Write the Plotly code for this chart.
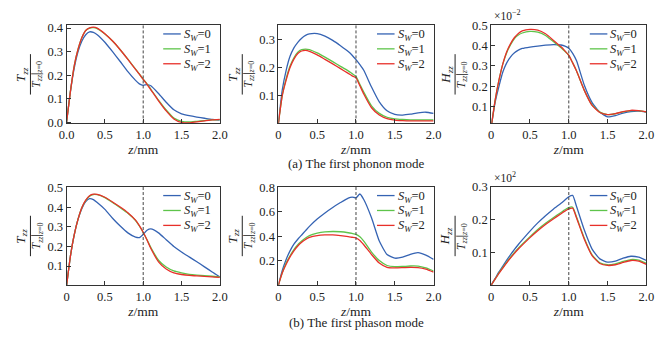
import plotly.graph_objects as go

# ---------------- data ----------------
z = [0, 0.05, 0.1, 0.15, 0.2, 0.25, 0.3, 0.35, 0.4, 0.5, 0.6, 0.7, 0.8, 0.9, 0.95,
     1.0, 1.05, 1.1, 1.2, 1.3, 1.4, 1.5, 1.6, 1.7, 1.8, 1.9, 2.0]

sw_labels = ["<i>S</i><sub><i>W</i></sub>=0", "<i>S</i><sub><i>W</i></sub>=1", "<i>S</i><sub><i>W</i></sub>=2"]

# (a) first phonon mode
a1_sw0 = [0, .13, .23, .30, .345, .372, .384, .382, .372, .340, .300, .258, .215, .178, .163,
          .157, .160, .155, .122, .085, .053, .036, .028, .022, .017, .012, .009]
a1_sw1 = [0, .13, .24, .31, .36, .39, .400, .402, .398, .375, .345, .308, .268, .226, .205,
          .183, .163, .140, .094, .052, .018, .004, .001, .004, .007, .010, .011]
a1_sw2 = [0, .13, .24, .31, .36, .39, .401, .404, .400, .376, .345, .308, .267, .225, .204,
          .182, .161, .138, .091, .048, .014, -.001, -.003, .002, .006, .010, .012]

a2_sw0 = [0, .12, .19, .24, .27, .29, .305, .315, .320, .321, .312, .297, .278, .257, .244,
          .228, .210, .190, .130, .077, .045, .032, .030, .033, .038, .040, .036]
a2_sw1 = [0, .10, .16, .205, .235, .255, .264, .266, .264, .252, .237, .221, .204, .188, .178,
          .168, .140, .112, .063, .036, .022, .016, .014, .013, .013, .013, .013]
a2_sw2 = [0, .10, .155, .20, .23, .25, .259, .261, .258, .245, .229, .213, .196, .179, .170,
          .163, .135, .105, .056, .030, .017, .012, .010, .009, .009, .009, .009]

a3_sw0 = [0, .12, .20, .27, .315, .345, .365, .378, .386, .393, .398, .402, .405, .403, .398,
          .387, .362, .325, .205, .120, .072, .050, .056, .068, .076, .078, .073]
a3_sw1 = [0, .13, .23, .31, .365, .405, .435, .452, .462, .470, .466, .450, .420, .390, .372,
          .352, .315, .275, .180, .108, .073, .061, .065, .074, .080, .080, .073]
a3_sw2 = [0, .13, .23, .31, .37, .41, .440, .460, .472, .480, .476, .458, .427, .394, .374,
          .352, .315, .275, .180, .106, .071, .061, .066, .075, .082, .080, .074]

# (b) first phason mode
b1_sw0 = [0, .15, .26, .34, .395, .43, .445, .440, .425, .390, .345, .305, .270, .248, .246,
          .262, .283, .290, .270, .235, .200, .172, .147, .122, .096, .070, .045]
b1_sw1 = [0, .15, .26, .34, .40, .435, .458, .466, .465, .450, .425, .398, .370, .333, .305,
          .272, .235, .195, .130, .095, .075, .065, .058, .054, .051, .048, .045]
b1_sw2 = [0, .15, .26, .34, .40, .437, .460, .468, .467, .452, .428, .402, .373, .335, .307,
          .273, .233, .190, .122, .085, .065, .057, .052, .050, .047, .045, .042]

b2_sw0 = [0, .12, .21, .28, .335, .375, .41, .445, .48, .54, .59, .635, .675, .712, .720,
          .713, .745, .700, .550, .360, .250, .220, .228, .252, .265, .245, .210]
b2_sw1 = [0, .10, .18, .24, .29, .33, .36, .385, .405, .425, .435, .438, .436, .428, .422,
          .415, .395, .360, .270, .200, .160, .150, .152, .156, .155, .140, .115]
b2_sw2 = [0, .10, .17, .23, .28, .32, .35, .373, .39, .405, .410, .410, .405, .397, .391,
          .385, .365, .330, .250, .180, .145, .140, .142, .145, .143, .130, .105]

b3_sw0 = [0, .020, .040, .058, .076, .093, .109, .124, .138, .165, .190, .212, .232, .250, .260,
          .270, .274, .240, .168, .110, .080, .070, .073, .082, .088, .085, .075]
b3_sw1 = [0, .018, .037, .054, .070, .085, .100, .113, .125, .148, .170, .189, .206, .222, .230,
          .237, .238, .208, .143, .092, .068, .062, .065, .072, .078, .076, .066]
b3_sw2 = [0, .018, .036, .052, .068, .083, .097, .110, .122, .145, .166, .185, .202, .218, .226,
          .233, .235, .205, .140, .090, .066, .060, .062, .069, .075, .073, .063]

interface_z = 1.0

x_tickvals = [0, 0.5, 1.0, 1.5, 2.0]
x_ticktext_first = ["0.0", "0.5", "1.0", "1.5", "2.0"]
x_ticktext_other = ["0", "0.5", "1.0", "1.5", "2.0"]

y_ticks_a1 = [0.0, 0.1, 0.2, 0.3, 0.4]
y_text_a1 = ["0.0", "0.1", "0.2", "0.3", "0.4"]
y_ticks_a2 = [0.1, 0.2, 0.3]
y_ticks_a3 = [0.1, 0.2, 0.3, 0.4, 0.5]
y_ticks_b1 = [0.1, 0.2, 0.3, 0.4, 0.5]
y_ticks_b2 = [0.2, 0.4, 0.6, 0.8]
y_ticks_b3 = [0.1, 0.2, 0.3]

num_T = "<i>T</i><sub><i>zz</i></sub>"
num_H = "<i>H</i><sub><i>zz</i></sub>"
den_T = "<i>T</i><sub><i>zz</i></sub>|<sub><i>z</i>=0</sub>"

captions = ["(a) The first phonon mode", "(b) The first phason mode"]
multipliers = {2: "×10<sup>−2</sup>", 5: "×10<sup>2</sup>"}

# ---------------- layout ----------------
W, H = 671, 343
FONT = "Liberation Serif, serif"
INK = "#222"
colors = ["#3563b3", "#5ec44a", "#e8302a"]

cols = [(60, 217), (277, 436), (495, 654)]
rows = [(19, 121), (187, 289)]

panels = [
    ([a1_sw0, a1_sw1, a1_sw2], [-0.005, 0.412], y_ticks_a1, y_text_a1, x_ticktext_first, num_T),
    ([a2_sw0, a2_sw1, a2_sw2], [0, 0.351], y_ticks_a2, None, x_ticktext_other, num_T),
    ([a3_sw0, a3_sw1, a3_sw2], [0.0175, 0.5], y_ticks_a3, None, x_ticktext_other, num_H),
    ([b1_sw0, b1_sw1, b1_sw2], [0.003, 0.505], y_ticks_b1, None, x_ticktext_other, num_T),
    ([b2_sw0, b2_sw1, b2_sw2], [0, 0.803], y_ticks_b2, None, x_ticktext_other, num_T),
    ([b3_sw0, b3_sw1, b3_sw2], [0, 0.3], y_ticks_b3, None, x_ticktext_other, num_H),
]

fig = go.Figure()
layout = dict(width=W, height=H, margin=dict(l=0, r=0, t=0, b=0),
              paper_bgcolor="white", plot_bgcolor="white", showlegend=False,
              font=dict(family=FONT, size=12, color=INK),
              shapes=[], annotations=[])


def px_x(v):
    return v / W


def px_y(v):
    return 1 - v / H


def label(x, y, text, size, **kw):
    d = dict(xref="paper", yref="paper", x=px_x(x), y=px_y(y), text=text, showarrow=False,
             xanchor="center", yanchor="middle", font=dict(family=FONT, size=size, color=INK))
    d.update(kw)
    layout["annotations"].append(d)


for i, (series, yr, yt, ytt, xtt, num) in enumerate(panels):
    r, c = divmod(i, 3)
    k = "" if i == 0 else str(i + 1)
    x0, x1 = cols[c]
    y0, y1 = rows[r]
    for j, s in enumerate(series):
        fig.add_trace(go.Scatter(
            x=z, y=s, mode="lines", name=sw_labels[j],
            line=dict(color=colors[j], width=1.3, shape="spline", smoothing=0.5),
            xaxis="x" + k, yaxis="y" + k))
    axcommon = dict(showline=True, mirror=True, linecolor="#333", linewidth=1,
                    ticks="inside", ticklen=4, tickcolor="#333", showgrid=False,
                    zeroline=False, tickfont=dict(family=FONT, size=12.5, color=INK))
    layout["xaxis" + k] = dict(domain=[px_x(x0), px_x(x1)], anchor="y" + k, range=[0, 2],
                               tickvals=x_tickvals, ticktext=xtt,
                               title=dict(text="<i>z</i>/mm",
                                          font=dict(family=FONT, size=13.5, color=INK),
                                          standoff=0),
                               **axcommon)
    yax = dict(domain=[px_y(y1), px_y(y0)], anchor="x" + k, range=yr, tickvals=yt, **axcommon)
    if ytt is not None:
        yax["ticktext"] = ytt
    layout["yaxis" + k] = yax

    # legend key (line sample + label) for each series
    for j in range(3):
        ly = y0 + 9 + 15.5 * j
        layout["shapes"].append(dict(type="line", xref="paper", yref="paper",
                                     x0=px_x(x1 - 58), x1=px_x(x1 - 40), y0=px_y(ly), y1=px_y(ly),
                                     line=dict(color=colors[j], width=1.3)))
        label(x1 - 39, ly + 1, sw_labels[j], 12.5, xanchor="left")

    # interface dashed line
    layout["shapes"].append(dict(type="line", xref="x" + k, yref="y" + k + " domain",
                                 x0=interface_z, x1=interface_z, y0=0, y1=1,
                                 line=dict(color="#444", width=1, dash="3px,2px")))
    # y-axis title as a stacked fraction
    yc = (y0 + y1) / 2
    layout["shapes"].append(dict(type="line", xref="paper", yref="paper",
                                 x0=px_x(x0 - 37), x1=px_x(x0 - 37),
                                 y0=px_y(yc - 21), y1=px_y(yc + 21),
                                 line=dict(color=INK, width=1)))
    label(x0 - 46, yc, num, 13, textangle=-90)
    label(x0 - 30, yc, den_T, 11.5, textangle=-90)
    if i in multipliers:
        label(x0 + 1, y0 - 1, multipliers[i], 11.5, xanchor="left", yanchor="bottom")

for r, cap in enumerate(captions):
    label(357, [163, 328][r], cap, 13)

fig.update_layout(**layout)
fig.write_html("out.html")
